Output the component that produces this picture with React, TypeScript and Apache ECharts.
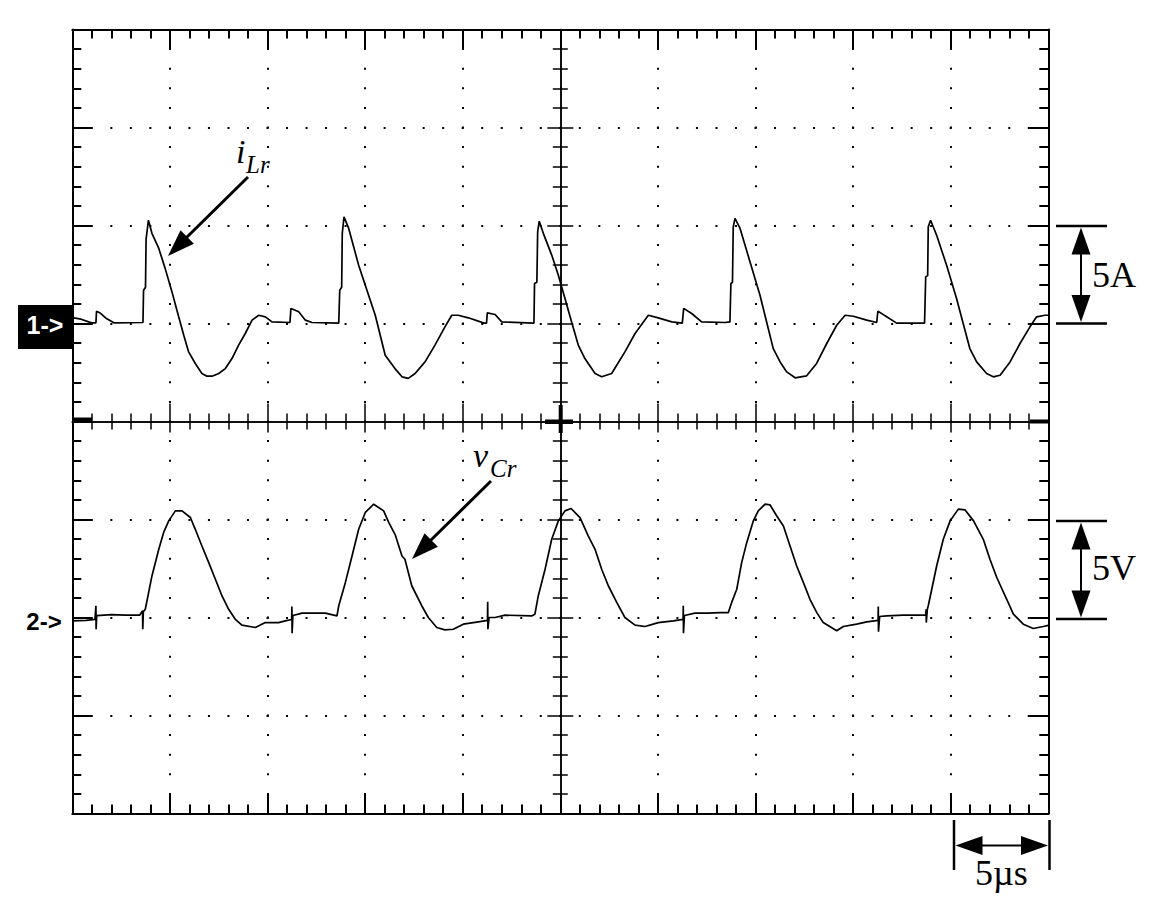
import React, { useEffect, useRef } from "react";
import * as echarts from "echarts";

// ---- Scope settings (10 x 8 divisions) ----
const TIME_MIN = 0; // µs
const TIME_MAX = 50; // µs, 5 µs/div
const TIME_DIV = 5;
const DIV_MIN = -4; // graticule, in divisions
const DIV_MAX = 4;
const CH1_MIN = -25; // A  (5 A/div, ch1 reference one division above centre)
const CH1_MAX = 15;
const CH2_MIN = -10; // V  (5 V/div, ch2 reference two divisions below centre)
const CH2_MAX = 30;

// ---- Channel 1: resonant inductor current iLr [t (µs), A] ----
const iLrPoints: [number, number][] = [
  [0.0, 0.3], [0.45, 0.22], [0.99, 0.03], [1.21, 0.03], [1.24, 0.62], [1.45, 0.52], [1.75, 0.25], [2.15, 0.03],
  [3.62, 0.05], [3.65, 1.7], [3.75, 1.85], [3.78, 4.3], [3.9, 5.27], [4.08, 4.6], [4.43, 3.83], [4.76, 2.8],
  [5.11, 1.6], [5.45, 0.34], [5.71, -0.6], [5.96, -1.45], [6.3, -2.04], [6.64, -2.55], [6.9, -2.69], [7.16, -2.69],
  [7.5, -2.55], [7.84, -2.3], [8.18, -1.79], [8.52, -1.1], [8.86, -0.51], [9.21, 0.17], [9.55, 0.42], [9.89, 0.34],
  [10.23, 0.08], [11.15, 0.05], [11.2, 0.77], [11.6, 0.6], [11.94, 0.17], [12.28, 0.05], [13.65, 0.02],
  [13.7, 1.7], [13.8, 1.85], [13.83, 4.6], [13.92, 5.44], [14.16, 4.85], [14.67, 2.97], [15.01, 1.95],
  [15.52, 0.42], [16.03, -1.62], [16.53, -2.3], [16.89, -2.72], [17.21, -2.8], [17.56, -2.55], [18.07, -1.96],
  [18.58, -1.1], [19.09, -0.17], [19.44, 0.42], [19.77, 0.42], [20.29, 0.29], [21.1, 0.02], [21.22, 0.02],
  [21.26, 0.54], [21.66, 0.46], [22.0, 0.08], [23.65, 0.02], [23.68, 2.04], [23.8, 2.1], [23.84, 4.67],
  [23.92, 5.22], [24.13, 4.6], [24.56, 3.49], [24.9, 2.46], [25.24, 1.28], [25.58, 0.08], [25.92, -1.1],
  [26.26, -1.79], [26.78, -2.55], [27.12, -2.72], [27.63, -2.55], [28.31, -1.45], [28.83, -0.51], [29.51, 0.42],
  [30.02, 0.29], [30.71, 0.08], [31.25, 0.02], [31.32, 0.77], [31.73, 0.51], [32.24, 0.08], [33.44, 0.05],
  [33.69, 0.08], [33.74, 2.04], [33.82, 2.1], [33.86, 4.93], [33.95, 5.36], [34.21, 4.85], [34.72, 3.14],
  [35.23, 1.44], [35.57, 0.08], [35.91, -1.28], [36.26, -1.96], [36.6, -2.47], [37.03, -2.77], [37.62, -2.67],
  [38.13, -2.04], [38.65, -1.02], [39.16, -0.09], [39.59, 0.42], [40.01, 0.37], [40.7, 0.17], [41.21, 0.05],
  [41.27, 0.63], [41.72, 0.34], [42.23, 0.02], [43.66, 0.02], [43.72, 2.38], [43.82, 2.45], [43.85, 4.93],
  [43.97, 5.27], [44.28, 4.5], [44.79, 2.97], [45.3, 1.28], [45.64, 0.0], [45.98, -1.28], [46.33, -1.96],
  [46.84, -2.55], [47.18, -2.72], [47.53, -2.64], [48.04, -1.96], [48.55, -1.02], [49.06, -0.17], [49.4, 0.34],
  [49.83, 0.42], [50.0, 0.42],
];

// ---- Channel 2: resonant capacitor voltage vCr [t (µs), V] ----
const vCrPoints: [number, number][] = [
  [0.0, -0.17], [0.7, -0.15], [1.16, -0.1], [1.21, 0.6], [1.22, -0.6], [1.25, 0.1], [2.0, 0.15], [2.7, 0.12],
  [3.45, 0.12], [3.6, 0.34], [3.61, -0.6], [3.64, 0.3], [3.74, 0.42], [4.08, 2.12], [4.43, 3.48], [4.68, 4.34],
  [4.94, 4.93], [5.28, 5.44], [5.62, 5.44], [6.05, 5.1], [6.3, 4.5], [6.64, 3.65], [6.99, 2.8], [7.33, 1.95],
  [7.67, 1.1], [8.01, 0.42], [8.35, -0.09], [8.69, -0.39], [9.38, -0.51], [9.89, -0.26], [10.57, -0.26],
  [10.91, -0.17], [11.24, -0.1], [11.25, 0.56], [11.26, -0.8], [11.3, 0.1], [11.77, 0.22], [12.28, 0.22],
  [12.96, 0.22], [13.56, 0.08], [13.65, 0.6], [13.99, 1.79], [14.33, 3.14], [14.67, 4.5], [15.01, 5.36],
  [15.44, 5.78], [15.95, 5.44], [16.21, 4.85], [16.55, 4.2], [16.89, 3.14], [17.04, 2.97], [17.39, 1.62],
  [17.9, 0.6], [18.24, 0.0], [18.67, -0.51], [19.09, -0.63], [19.52, -0.6], [20.03, -0.34], [20.8, -0.22],
  [21.27, -0.15], [21.28, 0.8], [21.29, -0.6], [21.35, 0.0], [21.66, 0.0], [22.17, 0.12], [23.53, 0.08],
  [23.7, 0.17], [23.87, 1.1], [24.22, 2.46], [24.56, 3.99], [24.9, 4.93], [25.24, 5.44], [25.55, 5.56],
  [26.01, 5.1], [26.43, 4.16], [26.78, 3.48], [27.12, 2.46], [27.46, 1.62], [27.89, 0.77], [28.31, 0.0],
  [28.83, -0.39], [29.34, -0.46], [30.02, -0.26], [30.79, -0.17], [31.29, -0.1], [31.3, 0.6], [31.31, -0.8],
  [31.36, 0.1], [31.9, 0.22], [32.58, 0.22], [33.18, 0.25], [33.61, 0.25], [33.78, 0.77], [34.04, 1.44],
  [34.29, 2.8], [34.55, 3.82], [34.89, 4.93], [35.14, 5.44], [35.49, 5.78], [35.74, 5.75], [36.09, 5.18],
  [36.43, 4.67], [36.77, 3.65], [37.11, 2.63], [37.45, 1.79], [37.79, 0.93], [38.14, 0.25], [38.47, -0.26],
  [39.16, -0.68], [39.5, -0.46], [40.18, -0.34], [40.7, -0.22], [41.28, -0.15], [41.29, 0.56], [41.3, -0.73],
  [41.36, 0.05], [41.72, 0.08], [42.57, 0.12], [43.72, 0.12], [43.74, 0.42], [43.75, -0.26], [43.8, 0.4],
  [43.85, 0.6], [44.03, 1.44], [44.28, 2.63], [44.62, 3.99], [44.97, 4.93], [45.39, 5.53], [45.74, 5.49],
  [46.17, 4.93], [46.67, 3.99], [47.01, 2.97], [47.36, 2.04], [47.87, 0.93], [48.21, 0.17], [48.72, -0.34],
  [49.23, -0.56], [49.74, -0.46], [50.0, -0.4],
];

// ---- Texts ----
const CH1_MARK = "1->";
const CH2_MARK = "2->";
const LABEL_I = ["i", "Lr"];
const LABEL_V = ["v", "Cr"];
const SCALE_A = "5A";
const SCALE_V = "5V";
const SCALE_T = "5µs";

const INK = "#000";
const SERIF = '"Liberation Serif", "Times New Roman", serif';
const SANS = '"Liberation Sans", Arial, sans-serif';

function arrowHead(tip: [number, number], tail: [number, number], len = 27, half = 9.5) {
  const dx = tip[0] - tail[0];
  const dy = tip[1] - tail[1];
  const d = Math.hypot(dx, dy);
  const ux = dx / d;
  const uy = dy / d;
  const bx = tip[0] - ux * len;
  const by = tip[1] - uy * len;
  return {
    type: "polygon",
    shape: { points: [tip, [bx - uy * half, by + ux * half], [bx + uy * half, by - ux * half]] },
    style: { fill: INK },
  };
}
function seg(x1: number, y1: number, x2: number, y2: number, w = 2) {
  return { type: "line", shape: { x1, y1, x2, y2 }, style: { stroke: INK, lineWidth: w } };
}
function txt(text: string, x: number, y: number, font: string, fill = INK, align = "left") {
  return { type: "text", x, y, style: { text, font, fill, textAlign: align, textVerticalAlign: "middle" } };
}

export default function App() {
  const ref = useRef<HTMLDivElement>(null);
  useEffect(() => {
    if (!ref.current) return;
    const chart = echarts.init(ref.current, null, { renderer: "svg" });
    const tick = { color: INK, width: 2 };
    const thin = { color: INK, width: 1.5 };
    const noLabel = { show: false };
    const border = (extra: any) => ({
      type: "value",
      axisLabel: noLabel,
      splitLine: { show: false },
      axisTick: { show: true, inside: true, length: 19, lineStyle: tick },
      minorTick: { show: true, splitNumber: 5, length: 9, lineStyle: tick },
      ...extra,
    });
    const centre = (extra: any, inside: boolean, major: number, minor: number) => ({
      type: "value",
      axisLabel: noLabel,
      splitLine: { show: false },
      axisTick: { show: true, inside, length: major, lineStyle: thin },
      minorTick: { show: true, splitNumber: 5, length: minor, lineStyle: thin },
      ...extra,
    });

    const option: any = {
      animation: false,
      backgroundColor: "#fff",
      grid: { left: 72.3, right: 116.7, top: 29.5, bottom: 95.5, outerBoundsMode: "none", containLabel: false },
      xAxis: [
        border({
          min: TIME_MIN, max: TIME_MAX, interval: TIME_DIV, position: "bottom",
          axisLine: { show: true, onZero: false, lineStyle: tick },
          splitLine: { show: true, lineStyle: { color: INK, width: 2, type: [2, 17.6], dashOffset: 1 } },
        }),
        border({
          min: TIME_MIN, max: TIME_MAX, interval: TIME_DIV, position: "top",
          axisLine: { show: true, onZero: false, lineStyle: tick },
        }),
        centre({ min: -25, max: 25, interval: 5, position: "bottom",
          axisLine: { show: true, onZero: true, onZeroAxisIndex: 0, lineStyle: thin } }, true, 18, 8),
        centre({ min: -25, max: 25, interval: 5, position: "bottom",
          axisLine: { show: true, onZero: true, onZeroAxisIndex: 0, lineStyle: thin } }, false, 11, 8),
      ],
      yAxis: [
        border({
          min: DIV_MIN, max: DIV_MAX, interval: 1, position: "left",
          axisLine: { show: true, onZero: false, lineStyle: tick },
          splitLine: { show: true, lineStyle: { color: INK, width: 2, type: [2, 17.52], dashOffset: 1 } },
        }),
        border({
          min: DIV_MIN, max: DIV_MAX, interval: 1, position: "right",
          axisLine: { show: true, onZero: false, lineStyle: tick },
        }),
        centre({ min: DIV_MIN, max: DIV_MAX, interval: 1, position: "left",
          axisLine: { show: true, onZero: true, onZeroAxisIndex: 2, lineStyle: thin } }, true, 13, 7.5),
        centre({ min: DIV_MIN, max: DIV_MAX, interval: 1, position: "left",
          axisLine: { show: true, onZero: true, onZeroAxisIndex: 2, lineStyle: thin } }, false, 13, 7.5),
        { type: "value", min: CH1_MIN, max: CH1_MAX, show: false },
        { type: "value", min: CH2_MIN, max: CH2_MAX, show: false },
      ],
      series: [
        {
          name: "iLr", type: "line", xAxisIndex: 0, yAxisIndex: 4, data: iLrPoints,
          symbol: "none", silent: true, z: 3, lineStyle: { color: INK, width: 1.7 },
        },
        {
          name: "vCr", type: "line", xAxisIndex: 0, yAxisIndex: 5, data: vCrPoints,
          symbol: "none", silent: true, z: 3, lineStyle: { color: INK, width: 1.7 },
        },
      ],
      graphic: [
        // scope markers on the centre lines
        { type: "rect", shape: { x: 72, y: 417.5, width: 20, height: 4 }, style: { fill: INK } },
        { type: "rect", shape: { x: 1030, y: 419.5, width: 18, height: 4 }, style: { fill: INK } },
        { type: "rect", shape: { x: 545, y: 419.5, width: 28, height: 4.5 }, style: { fill: INK } },
        { type: "rect", shape: { x: 558.7, y: 405, width: 4, height: 28 }, style: { fill: INK } },
        // channel markers
        { type: "rect", shape: { x: 18, y: 305, width: 54, height: 44 }, style: { fill: INK } },
        txt(CH1_MARK, 45, 325, `bold 25px ${SANS}`, "#fff", "center"),
        txt(CH2_MARK, 44, 621, `bold 24px ${SANS}`, INK, "center"),
        // iLr label + arrow
        txt(LABEL_I[0], 236, 151.5, `italic 34px ${SERIF}`),
        txt(LABEL_I[1], 246, 164.5, `italic 25px ${SERIF}`),
        seg(248, 177, 185, 239, 3),
        arrowHead([168, 256], [248, 177]),
        // vCr label + arrow
        txt(LABEL_V[0], 473, 455.5, `italic 34px ${SERIF}`),
        txt(LABEL_V[1], 490, 468.5, `italic 25px ${SERIF}`),
        seg(491, 481, 430, 541, 3),
        arrowHead([412, 559], [491, 481]),
        // 5A scale bar
        seg(1056, 226, 1107, 226, 2.5),
        seg(1056, 323.5, 1107, 323.5, 2.5),
        seg(1081, 250, 1081, 300, 2),
        arrowHead([1081, 227.5], [1081, 323]),
        arrowHead([1081, 322], [1081, 226]),
        txt(SCALE_A, 1092, 275, `36px ${SERIF}`),
        // 5V scale bar
        seg(1056, 521, 1107, 521, 2.5),
        seg(1056, 619, 1107, 619, 2.5),
        seg(1081, 545, 1081, 595, 2),
        arrowHead([1081, 522.5], [1081, 619]),
        arrowHead([1081, 617.5], [1081, 521]),
        txt(SCALE_V, 1092, 568, `36px ${SERIF}`),
        // 5 µs scale bar
        seg(954, 820, 954, 870, 2.5),
        seg(1049.5, 820, 1049.5, 870, 2.5),
        seg(978, 845.5, 1025, 845.5, 2),
        arrowHead([955.5, 845.5], [1049, 845.5]),
        arrowHead([1048, 845.5], [954, 845.5]),
        txt(SCALE_T, 975, 873, `36px ${SERIF}`),
      ],
    };
    chart.setOption(option);
    return () => chart.dispose();
  }, []);
  return (
    <div
      ref={ref}
      style={{ position: "absolute", left: 0, top: 0, width: 1165, height: 909, background: "#fff" }}
    />
  );
}
